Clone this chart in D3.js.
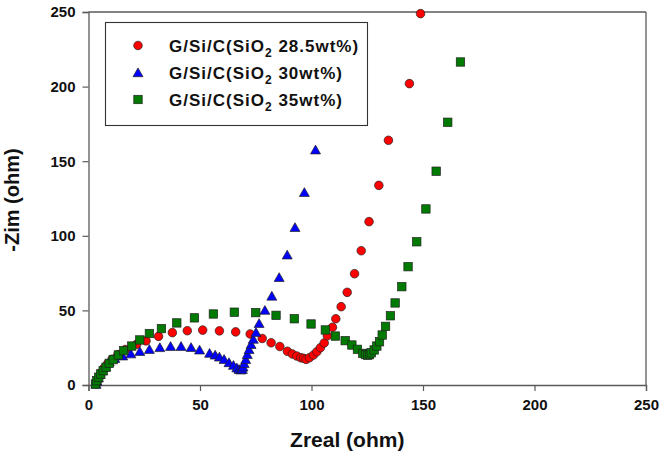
<!DOCTYPE html>
<html>
<head>
<meta charset="utf-8">
<script src="https://cdn.jsdelivr.net/npm/d3@7"></script>
<style>
  html, body { margin: 0; padding: 0; background: #fff; }
  svg { display: block; font-family: Arial, "Liberation Sans", sans-serif; }
</style>
</head>
<body>
<svg id="chart" width="667" height="456"></svg>
<script>
// ---- data ----
const seriesNames = ["28.5wt%)", "30wt%)", "35wt%)"];

const zreal28 = [3.6, 4.1, 4.8, 5.8, 7.0, 8.6, 10.6, 13.2, 16.5, 21.6, 25.8, 31.4, 37.6, 44.3, 51.2, 58.7, 66.0, 72.5, 77.9, 81.9, 85.8, 89.2, 91.4, 93.4, 95.2, 96.4, 97.6, 99.1, 100.9, 102.4, 104.0, 105.7, 107.1, 109.4, 110.9, 113.3, 116.0, 119.3, 122.3, 125.8, 130.2, 134.5, 143.9, 148.9];
const zim28   = [0.8, 3.2, 5.8, 8.6, 11.4, 14.3, 17.3, 20.4, 23.8, 27.3, 29.6, 32.6, 35.1, 36.4, 36.8, 36.3, 35.6, 34.2, 31.2, 28.3, 25.8, 22.6, 20.8, 19.4, 18.3, 17.9, 17.2, 18.3, 20.1, 22.3, 25.0, 28.2, 33.0, 38.7, 44.4, 52.5, 62.1, 74.6, 90.0, 109.5, 133.8, 164.0, 202.0, 248.9];

const zreal30 = [3.4, 3.8, 4.4, 5.2, 6.2, 7.5, 9.3, 11.8, 15.3, 19.0, 23.0, 27.3, 32.0, 36.8, 41.5, 46.0, 49.8, 54.3, 56.8, 58.7, 60.8, 63.0, 65.0, 66.5, 67.5, 68.3, 69.0, 69.3, 69.8, 70.5, 71.2, 72.0, 72.9, 73.9, 75.1, 76.5, 79.1, 82.2, 85.5, 89.1, 92.6, 96.8, 101.8];
const zim30   = [0.6, 2.6, 4.8, 7.2, 9.6, 12.2, 15.6, 17.9, 19.6, 21.0, 22.6, 24.0, 25.2, 26.0, 26.0, 25.3, 23.6, 21.4, 20.2, 18.9, 17.3, 15.1, 13.3, 11.6, 10.6, 10.2, 10.6, 12.2, 14.5, 17.2, 20.6, 23.9, 27.3, 30.8, 35.4, 41.4, 50.2, 59.7, 72.2, 87.3, 105.7, 129.2, 157.7];

const zreal35 = [3.1, 3.7, 4.6, 5.5, 6.6, 7.9, 9.3, 11.1, 13.4, 15.8, 19.4, 23.0, 27.3, 32.7, 39.6, 47.5, 56.0, 65.4, 75.0, 84.1, 92.3, 99.8, 106.2, 110.7, 115.1, 118.1, 120.6, 123.0, 124.2, 125.2, 126.0, 126.8, 128.1, 129.3, 130.5, 131.7, 133.2, 135.4, 137.5, 140.5, 143.3, 147.2, 151.3, 155.9, 161.1, 166.8];
const zim35   = [0.7, 2.9, 5.2, 7.4, 9.6, 11.9, 14.5, 17.0, 20.1, 23.0, 26.1, 30.2, 34.5, 37.8, 41.6, 45.0, 47.6, 48.8, 48.5, 46.7, 44.4, 40.9, 36.9, 32.8, 29.7, 26.8, 23.9, 21.2, 20.4, 20.0, 20.4, 21.6, 23.5, 26.1, 29.0, 33.5, 39.3, 46.4, 55.0, 65.9, 79.3, 96.0, 118.0, 143.3, 176.1, 216.5];

const xTicks = [0, 50, 100, 150, 200, 250];
const yTicks = [0, 50, 100, 150, 200, 250];

// ---- layout ----
const svg = d3.select("#chart");
const mLeft = 88.5, mTop = 12, mRight = 646, mBottom = 385;

const x = d3.scaleLinear().domain([0, 250]).range([mLeft, mRight]);
const y = d3.scaleLinear().domain([0, 250]).range([mBottom, mTop]);

const axisColor = "#5a5a5a";

// frame (top & right)
svg.append("line").attr("x1", mLeft).attr("x2", mRight).attr("y1", mTop).attr("y2", mTop)
  .attr("stroke", axisColor).attr("stroke-width", 1.3);
svg.append("line").attr("x1", mRight).attr("x2", mRight).attr("y1", mTop).attr("y2", mBottom)
  .attr("stroke", axisColor).attr("stroke-width", 1.3);

// axes
const xAxis = svg.append("g").attr("transform", `translate(0,${mBottom})`)
  .call(d3.axisBottom(x).tickValues(xTicks).tickSize(6).tickPadding(8).tickFormat(d3.format("d")));
const yAxis = svg.append("g").attr("transform", `translate(${mLeft},0)`)
  .call(d3.axisLeft(y).tickValues(yTicks).tickSize(6).tickPadding(7).tickFormat(d3.format("d")));

[xAxis, yAxis].forEach(g => {
  g.select(".domain").attr("stroke", axisColor).attr("stroke-width", 1.3);
  g.selectAll(".tick line").attr("stroke", axisColor).attr("stroke-width", 1.2);
  g.selectAll(".tick text").attr("fill", "#111").attr("font-size", 15)
    .attr("font-weight", "bold").attr("font-family", "Arial, 'Liberation Sans', sans-serif");
});

// axis titles
svg.append("text").attr("x", (mLeft + mRight) / 2 - 20).attr("y", 447)
  .attr("text-anchor", "middle").attr("font-size", 21).attr("font-weight", "bold")
  .attr("fill", "#111").text("Zreal (ohm)");
svg.append("text").attr("transform", `translate(19,200) rotate(-90)`)
  .attr("text-anchor", "middle").attr("font-size", 20).attr("font-weight", "bold")
  .attr("fill", "#111").text("-Zim (ohm)");

// markers
const strokeC = "#222", strokeW = 0.7;
function drawCircle(g, cx, cy) {
  g.append("circle").attr("cx", cx).attr("cy", cy).attr("r", 4.3)
    .attr("fill", "#ff0000").attr("stroke", strokeC).attr("stroke-width", strokeW);
}
function drawTriangle(g, cx, cy) {
  g.append("path").attr("d", `M${cx - 5},${cy + 4.2}L${cx + 5},${cy + 4.2}L${cx},${cy - 4.6}Z`)
    .attr("fill", "#0000ff").attr("stroke", strokeC).attr("stroke-width", strokeW);
}
function drawSquare(g, cx, cy) {
  g.append("rect").attr("x", cx - 4.2).attr("y", cy - 4.2).attr("width", 8.4).attr("height", 8.4)
    .attr("fill", "#007a00").attr("stroke", strokeC).attr("stroke-width", strokeW);
}

const plot = svg.append("g");
const g28 = plot.append("g"), g30 = plot.append("g"), g35 = plot.append("g");
zreal28.forEach((v, i) => drawCircle(g28, x(v), y(zim28[i])));
zreal30.forEach((v, i) => drawTriangle(g30, x(v), y(zim30[i])));
zreal35.forEach((v, i) => drawSquare(g35, x(v), y(zim35[i])));

// legend
const leg = svg.append("g");
leg.append("rect").attr("x", 105.5).attr("y", 22.5).attr("width", 262).attr("height", 103)
  .attr("fill", "#fff").attr("stroke", "#333").attr("stroke-width", 1.1);
const rowsY = [45.5, 72.5, 99.5];
const drawers = [drawCircle, drawTriangle, drawSquare];
seriesNames.forEach((name, i) => {
  drawers[i](leg, 138, rowsY[i]);
  const t = leg.append("text").attr("x", 169).attr("y", rowsY[i] + 6)
    .attr("font-size", 17).attr("font-weight", "bold").attr("fill", "#111")
    .attr("letter-spacing", 1);
  t.append("tspan").text("G/Si/C(SiO");
  t.append("tspan").attr("font-size", 12).attr("dy", 5).text("2");
  t.append("tspan").attr("dy", -5).text(" " + name);
});
</script>
</body>
</html>
